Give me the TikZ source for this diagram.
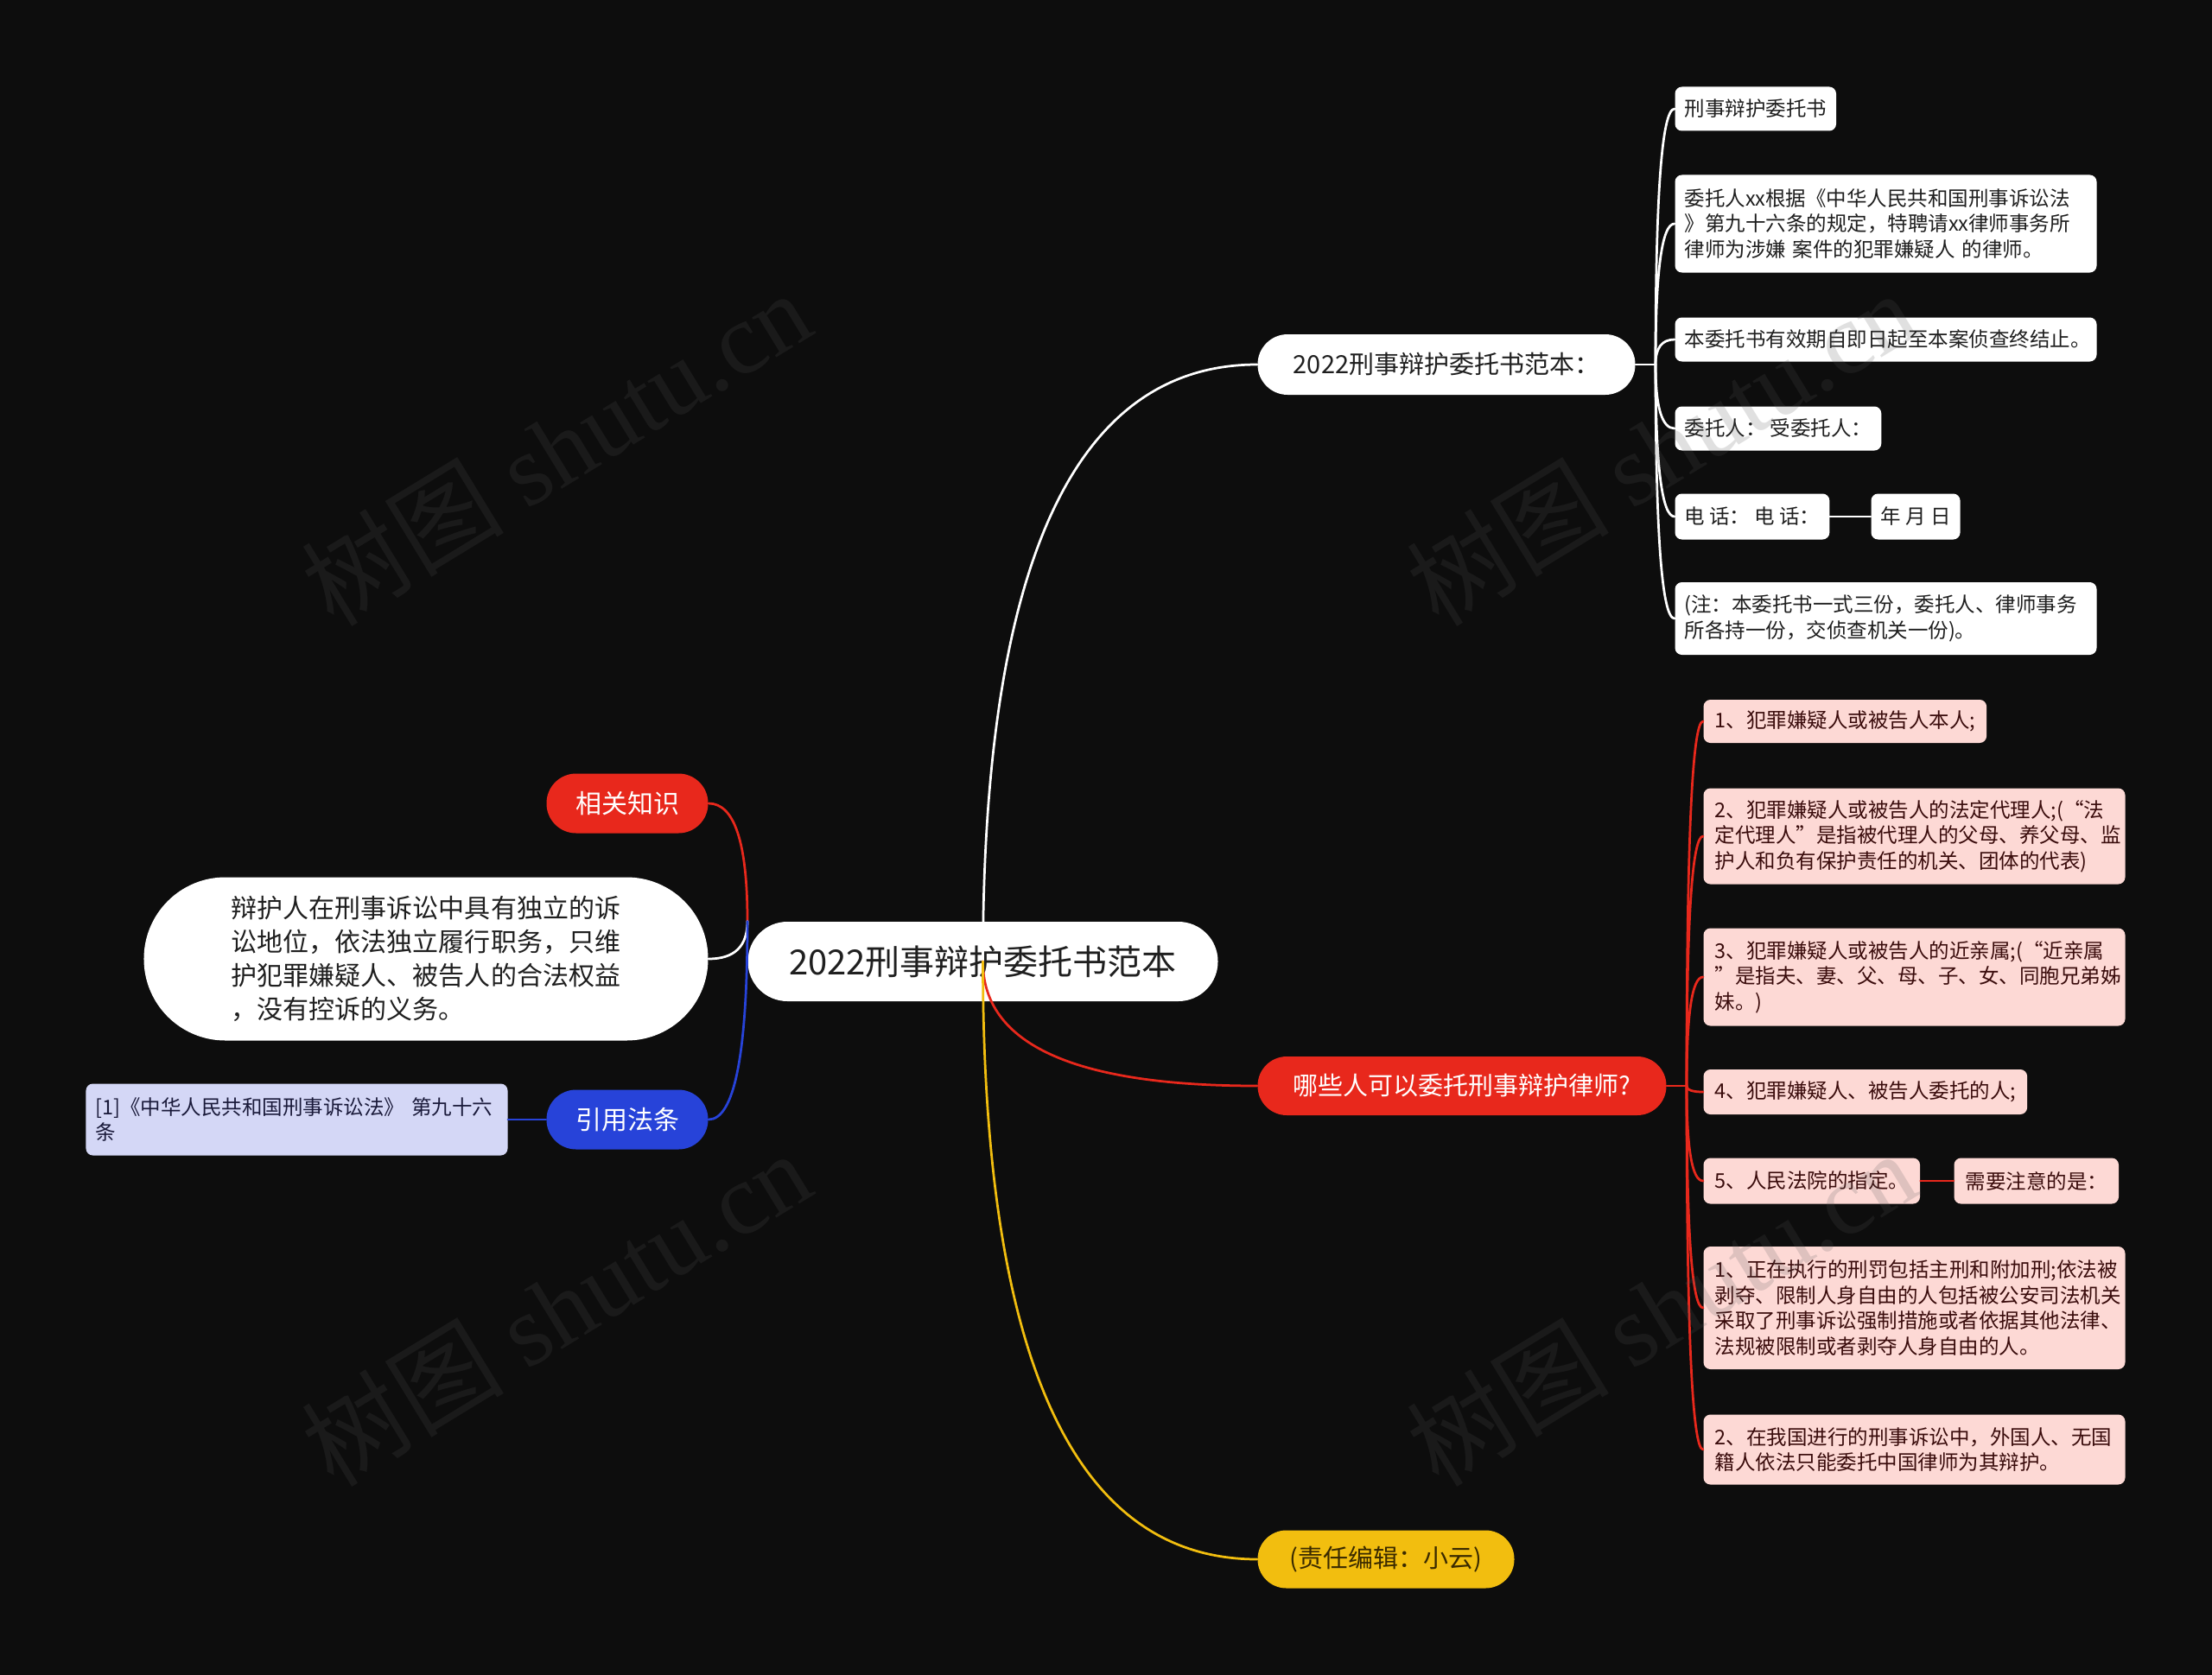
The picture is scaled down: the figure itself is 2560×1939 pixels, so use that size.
\documentclass[tikz,border=0pt]{standalone}
\usepackage{fontspec}
\setmainfont{Noto Sans CJK SC}
\newfontfamily\wmserif{Liberation Serif}
\usetikzlibrary{calc}
\definecolor{bg}{HTML}{0D0D0D}
\definecolor{cred}{HTML}{E8281C}
\definecolor{cblue}{HTML}{2743D9}
\definecolor{cyel}{HTML}{F2BE0F}
\definecolor{cpink}{HTML}{FDD9D5}
\definecolor{clav}{HTML}{D4D7F6}
\definecolor{tdark}{HTML}{1F1F1F}
\definecolor{tred}{HTML}{3A0C0C}
\definecolor{tblue}{HTML}{1A1A3A}
\definecolor{tyel}{HTML}{3A2A00}
\definecolor{wmc}{HTML}{565656}
\begin{document}
\begin{tikzpicture}[x=0.4pt,y=-0.4pt,
  conn/.style={line width=1.1pt, line cap=round},
  qc/.style={to path={.. controls ($(\tikztostart)!0.6667!(\tikztostart|-\tikztotarget)$) and ($(\tikztotarget)!0.6667!(\tikztostart|-\tikztotarget)$) .. (\tikztotarget)}},
  box/.style={rectangle, rounded corners=3.2pt, inner xsep=4.4pt, inner ysep=0pt, align=left, anchor=west, font=\fontsize{9.4}{11.8}\selectfont},
  wbox/.style={box, fill=white, text=tdark},
  rbox/.style={box, fill=cpink, text=tred, inner xsep=5.2pt},
  pill/.style={rectangle, inner sep=0pt, align=center},
  wm/.style={text=wmc, opacity=0.18, rotate=31.4, font=\fontsize{47}{47}\selectfont},
]
\fill[bg] (0,0) rectangle (2560,1939);
\useasboundingbox (0,0) rectangle (2560,1939);

% root
\node[pill, anchor=west, fill=white, text=tdark, minimum width=217.6pt, minimum height=36.8pt, rounded corners=18.3pt, font=\fontsize{16}{16}\selectfont] (root) at (865,1113) {2022刑事辩护委托书范本};

% right branches
\node[pill, anchor=west, fill=white, text=tdark, minimum width=174.8pt, minimum height=28pt, rounded corners=13.9pt, font=\fontsize{11.6}{12}\selectfont] (b1) at (1455,422) {2022刑事辩护委托书范本：};
\node[pill, anchor=west, fill=cred, text=white, minimum width=189.2pt, minimum height=27.2pt, rounded corners=13.5pt, font=\fontsize{11.6}{12}\selectfont] (b2) at (1455,1257) {哪些人可以委托刑事辩护律师?};
\node[pill, anchor=west, fill=cyel, text=tyel, minimum width=118.8pt, minimum height=26.8pt, rounded corners=13.3pt, font=\fontsize{11.6}{12}\selectfont] (b3) at (1455,1805) {(责任编辑：小云)};

% left branches
\node[pill, anchor=east, fill=cred, text=white, minimum width=74.8pt, minimum height=27.6pt, rounded corners=13.7pt, font=\fontsize{12}{12}\selectfont] (k1) at (820,930) {相关知识};
\node[pill, anchor=east, fill=cblue, text=white, minimum width=74.8pt, minimum height=27.6pt, rounded corners=13.7pt, font=\fontsize{12}{12}\selectfont] (k2) at (820,1296) {引用法条};
\node[pill, anchor=east, fill=white, text=tdark, align=left, minimum width=261.2pt, minimum height=75.6pt, rounded corners=37.7pt, font=\fontsize{12}{15.6}\selectfont] (pl) at (820,1110) {辩护人在刑事诉讼中具有独立的诉\\讼地位，依法独立履行职务，只维\\护犯罪嫌疑人、被告人的合法权益\\，没有控诉的义务。};
\node[box, anchor=east, fill=clav, text=tblue, text width=186.4pt, minimum height=33.2pt] (ref) at (588,1296) {[1]《中华人民共和国刑事诉讼法》 第九十六\\条};

% white children
\node[wbox, minimum height=20.4pt] (w1) at (1938,126) {刑事辩护委托书};
\node[wbox, minimum height=45.2pt, text width=186.4pt] (w2) at (1938,259) {委托人xx根据《中华人民共和国刑事诉讼法\\》第九十六条的规定，特聘请xx律师事务所\\律师为涉嫌 案件的犯罪嫌疑人 的律师。};
\node[wbox, minimum height=20.4pt, text width=186.4pt] (w3) at (1938,393) {本委托书有效期自即日起至本案侦查终结止。};
\node[wbox, minimum height=20.4pt] (w4) at (1938,496) {委托人：\ 受委托人：};
\node[wbox, minimum height=21.2pt] (w5) at (1938,598) {电\ 话：\ 电\ 话：};
\node[wbox, minimum height=21.2pt] (w5b) at (2165,598) {年\ 月\ 日};
\node[wbox, minimum height=33.6pt, text width=186.4pt] (w6) at (1938,716) {(注：本委托书一式三份，委托人、律师事务\\所各持一份，交侦查机关一份)。};

% red children
\node[rbox, minimum height=20pt] (r1) at (1971,835) {1、犯罪嫌疑人或被告人本人;};
\node[rbox, minimum height=44.4pt, text width=184.8pt] (r2) at (1971,968) {2、犯罪嫌疑人或被告人的法定代理人;(“法\\定代理人”是指被代理人的父母、养父母、监\\护人和负有保护责任的机关、团体的代表)};
\node[rbox, minimum height=45.2pt, text width=184.8pt] (r3) at (1971,1131) {3、犯罪嫌疑人或被告人的近亲属;(“近亲属\\”是指夫、妻、父、母、子、女、同胞兄弟姊\\妹。)};
\node[rbox, minimum height=20.8pt] (r4) at (1971,1264) {4、犯罪嫌疑人、被告人委托的人;};
\node[rbox, minimum height=21.2pt] (r5) at (1971,1367) {5、人民法院的指定。};
\node[rbox, minimum height=21.2pt] (r5b) at (2261,1367) {需要注意的是：};
\node[rbox, minimum height=56.8pt, text width=184.8pt] (r6) at (1971,1514) {1、正在执行的刑罚包括主刑和附加刑;依法被\\剥夺、限制人身自由的人包括被公安司法机关\\采取了刑事诉讼强制措施或者依据其他法律、\\法规被限制或者剥夺人身自由的人。};
\node[rbox, minimum height=32.4pt, text width=184.8pt] (r7) at (1971,1678) {2、在我国进行的刑事诉讼中，外国人、无国\\籍人依法只能委托中国律师为其辩护。};

% connectors: root right
\draw[conn, white] (root.center) to[qc] (b1.west);
\draw[conn, cred] (root.center) to[qc] (b2.west);
\draw[conn, cyel] (root.center) to[qc] (b3.west);
% root left
\draw[conn, cred] (root.north west) to[qc] (k1.east);
\draw[conn, white] (root.north west) to[qc] (pl.east);
\draw[conn, cblue] (root.north west) to[qc] (k2.east);
\draw[conn, cblue] (k2.west) -- (ref.east);
% white sub-branch
\draw[conn, white] (b1.east) -- ++(23,0) coordinate (t1);
\foreach \c in {w1,w2,w3,w4,w5,w6} \draw[conn, white] (t1) to[qc] (\c.west);
\draw[conn, white] (w5.east) -- (w5b.west);
% red sub-branch
\draw[conn, cred] (b2.east) -- ++(23,0) coordinate (t2);
\foreach \c in {r1,r2,r3,r4,r5,r6,r7} \draw[conn, cred] (t2) to[qc] (\c.west);
\draw[conn, cred] (r5.east) -- (r5b.west);

% watermarks
\foreach \wx/\wy [count=\i] in {643/518, 1922/518, 643/1514, 1922/1514}
  \node[wm] (wm\i) at (\wx,\wy) {树图 {\wmserif shutu.cn}};
\end{tikzpicture}
\end{document}
